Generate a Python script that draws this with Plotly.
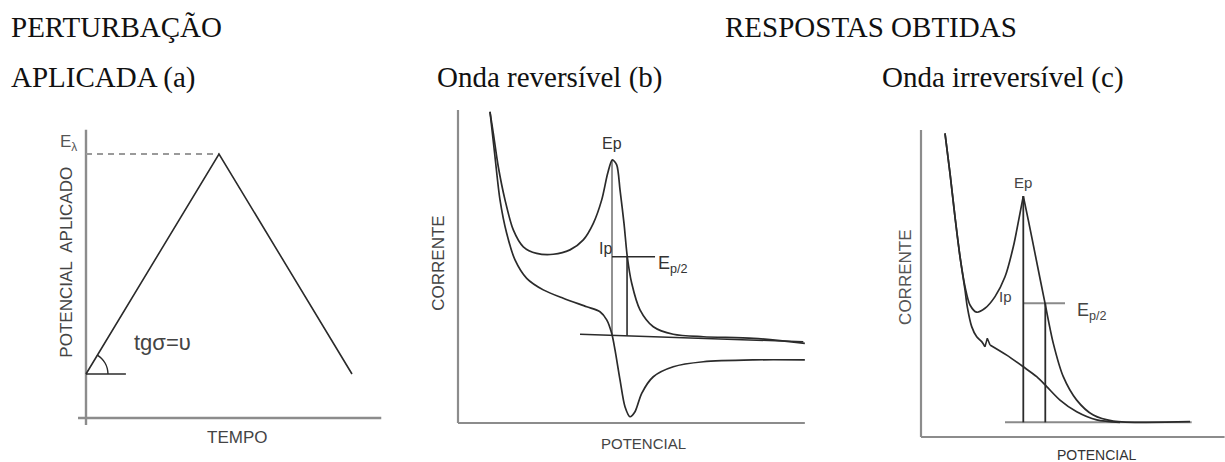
import plotly.graph_objects as go

W, H = 1225, 462

# ---------------- Panel (a): applied triangular potential ----------------
a_tempo = [0, 5, 10]              # time (arb. units)
a_potencial = [1, 6, 1]           # applied potential (arb. units)
a_lambda_t = [0, 5]               # switching potential guide
a_lambda_E = [6, 6]
a_ref_t = [0, 1.5]                # horizontal reference for slope angle
a_ref_E = [1, 1]
a_arc_t = [0.827, 0.799, 0.716, 0.585, 0.414]
a_arc_E = [1.0, 1.129, 1.25, 1.354, 1.433]
a_xaxis_t = [-0.3, 11.1]
a_xaxis_E = [0, 0]
a_yaxis_t = [0, 0]
a_yaxis_E = [-0.16, 6.55]

# ---------------- Panel (b): reversible wave ----------------
b_fwd_x = [9.14, 10.09, 11.51, 13.43, 15.8, 18.66, 22.49, 27.23, 32.0, 35.8, 38.66,
           41.06, 42.77, 44.09, 45.34, 46.29, 47.43, 48.37, 49.63, 52.0, 55.8, 61.5,
           70.1, 84.4, 99.1]
b_fwd_y = [99.6, 92.7, 82.0, 71.4, 61.8, 56.4, 54.3, 54.0, 55.4, 58.6, 63.9,
           71.4, 79.9, 84.2, 82.6, 74.6, 63.9, 53.2, 44.7, 36.2, 30.8, 28.4,
           27.6, 27.1, 25.5]
b_rev_x = [9.14, 10.57, 12.0, 13.91, 16.29, 19.63, 24.37, 30.09, 36.77, 40.57, 42.49,
           43.91, 44.86, 46.29, 47.71, 49.14, 50.57, 52.49, 55.8, 61.5, 70.1, 84.4, 99.1]
b_rev_y = [99.6, 85.2, 71.4, 60.7, 52.2, 46.3, 42.6, 39.9, 37.2, 35.6, 33.0,
           28.7, 23.4, 13.8, 5.2, 2.0, 3.6, 9.5, 14.8, 18.0, 19.6, 20.2, 20.2]
b_base_x = [34.86, 98.66]
b_base_y = [28.4, 26.0]
b_ip_x = [44.0, 44.0]
b_ip_y = [84.2, 28.2]
b_half_x = [44.0, 56.3]
b_half_y = [53.2, 53.2]
b_halfv_x = [48.3, 48.3]
b_halfv_y = [53.2, 27.9]
b_xaxis = ([0, 99.1], [0, 0])
b_yaxis = ([0, 0], [0, 100.2])

# ---------------- Panel (c): irreversible wave ----------------
c_up_rise_x = [8.0, 9.67, 11.33, 13.0, 14.67, 16.33, 18.57, 21.33, 24.67, 28.0, 30.77, 32.77, 34.1]
c_up_rise_y = [101.2, 87.9, 73.4, 60.1, 50.1, 44.0, 41.6, 42.9, 46.8, 53.4, 63.4, 73.4, 80.3]
c_up_fall_x = [34.1, 35.77, 38.0, 41.33, 44.1, 47.43, 51.9, 57.43, 64.1, 89.67]
c_up_fall_y = [80.3, 72.3, 61.2, 44.6, 31.2, 20.1, 12.3, 7.3, 5.3, 5.1]
c_low_a_x = [8.0, 9.67, 11.33, 13.0, 14.67, 15.43, 16.9, 18.57, 20.23, 21.33]
c_low_a_y = [101.2, 87.9, 73.4, 60.1, 49.0, 43.4, 36.8, 33.4, 31.8, 30.1]
c_notch_x = [21.33, 22.1, 23.0]
c_notch_y = [30.1, 32.9, 30.7]
c_low_b_x = [23.0, 28.57, 34.1, 38.57, 41.9, 46.33, 51.9, 58.57, 66.33]
c_low_b_y = [30.7, 27.3, 23.4, 20.1, 16.8, 12.3, 8.4, 5.7, 4.9]
c_base_x = [28.0, 90.23]
c_base_y = [4.9, 4.9]
c_ip_x = [34.1, 34.1]
c_ip_y = [80.3, 4.9]
c_halfv_x = [41.43, 41.43]
c_halfv_y = [44.6, 4.9]
c_half_x = [34.1, 48.0]
c_half_y = [44.6, 44.6]
c_xaxis = ([0, 101.2], [0, 0])
c_yaxis = ([0, 0], [0, 102.3])

# ---------------- Layout geometry helpers ----------------
def xdom(origin_px, ppu, rng):
    return [(origin_px + rng[0] * ppu) / W, (origin_px + rng[1] * ppu) / W]

def ydom(origin_px, ppu, rng):
    return [(H - (origin_px - rng[0] * ppu)) / H, (H - (origin_px - rng[1] * ppu)) / H]

A_XR, A_YR = [-1.2, 11.5], [-0.9, 6.9]
B_XR, B_YR = [-9, 101], [-9, 101]
C_XR, C_YR = [-9, 101.3], [-8, 103]

CURVE = "#2b2b2b"
AXIS = "#8c8c8c"
GRAY = "#8a8a8a"

fig = go.Figure()

def line(x, y, ax, color=CURVE, width=1.6, dash="solid", shape="linear", smoothing=1.0):
    fig.add_trace(go.Scatter(
        x=x, y=y, mode="lines", xaxis="x" + ax, yaxis="y" + ax,
        line=dict(color=color, width=width, dash=dash, shape=shape,
                  smoothing=smoothing if shape == "spline" else None),
        hoverinfo="skip", showlegend=False))

# panel a
line(a_xaxis_t, a_xaxis_E, "", color=AXIS, width=2.4)
line(a_yaxis_t, a_yaxis_E, "", color=AXIS, width=2.4)
line(a_lambda_t, a_lambda_E, "", color="#9a9a9a", width=2, dash="6px,5px")
line(a_tempo, a_potencial, "", width=1.6)
line(a_ref_t, a_ref_E, "", width=1.6)
line(a_arc_t, a_arc_E, "", width=1.4, shape="spline")

# panel b
line(b_xaxis[0], b_xaxis[1], "2", color=AXIS, width=2.2)
line(b_yaxis[0], b_yaxis[1], "2", color=AXIS, width=2.2)
line(b_base_x, b_base_y, "2", width=1.5)
line(b_ip_x, b_ip_y, "2", color="#777777", width=1.6)
line(b_half_x, b_half_y, "2", width=1.5)
line(b_halfv_x, b_halfv_y, "2", width=1.6)
line(b_fwd_x, b_fwd_y, "2", width=1.7, shape="spline", smoothing=0.8)
line(b_rev_x, b_rev_y, "2", width=1.7, shape="spline", smoothing=0.8)

# panel c
line(c_xaxis[0], c_xaxis[1], "3", color=AXIS, width=2.2)
line(c_yaxis[0], c_yaxis[1], "3", color=AXIS, width=2.2)
line(c_base_x, c_base_y, "3", color=GRAY, width=2)
line(c_half_x, c_half_y, "3", color=GRAY, width=2)
line(c_ip_x, c_ip_y, "3", width=1.8)
line(c_halfv_x, c_halfv_y, "3", width=1.8)
line(c_up_rise_x, c_up_rise_y, "3", width=1.7, shape="spline", smoothing=0.8)
line(c_up_fall_x, c_up_fall_y, "3", width=1.7, shape="spline", smoothing=0.8)
line(c_low_a_x, c_low_a_y, "3", width=1.7, shape="spline", smoothing=0.8)
line(c_notch_x, c_notch_y, "3", width=1.5)
line(c_low_b_x, c_low_b_y, "3", width=1.7, shape="spline", smoothing=0.8)

SANS = "Liberation Sans, Arial, sans-serif"
SERIF = "Liberation Serif, Times New Roman, serif"
annotations = []

def label(text, x, y, ax, size=16, angle=0, xanchor="center", color="#333333"):
    annotations.append(dict(text=text, x=x, y=y, xref="x" + ax, yref="y" + ax,
                            showarrow=False, textangle=angle, xanchor=xanchor,
                            yanchor="middle",
                            font=dict(family=SANS, size=size, color=color)))

# panel a labels
label("tgσ=υ", 2.86, 1.72, "", size=22, color="#444444")
label("E<sub>λ</sub>", -0.66, 6.25, "", size=17, color="#555555")
label("POTENCIAL\u00a0 APLICADO", -0.72, 3.55, "", size=17, angle=-90, color="#444444")
label("TEMPO", 5.68, -0.45, "", size=17, color="#444444")

# panel b labels
label("Ep", 43.9, 89.5, "2", size=16)
label("Ip", 42.0, 56.0, "2", size=16)
label("E<sub>p/2</sub>", 56.6, 50.6, "2", size=18, xanchor="left")
label("CORRENTE", -5.8, 51.2, "2", size=17, angle=-90, color="#444444")
label("POTENCIAL", 52.9, -6.4, "2", size=15, color="#444444")

# panel c labels
label("Ep", 34.0, 84.9, "3", size=15, color="#444444")
label("Ip", 28.0, 46.8, "3", size=15, color="#444444")
label("E<sub>p/2</sub>", 51.3, 42.0, "3", size=18, xanchor="left", color="#444444")
label("CORRENTE", -5.4, 53.3, "3", size=17, angle=-90, color="#555555")
label("POTENCIAL", 58.7, -6.0, "3", size=14, color="#333333")

# titles (page headings)
titles = [
    ("PERTURBAÇÃO", 9, 27),
    ("APLICADA (a)", 9, 78),
    ("RESPOSTAS OBTIDAS", 723, 27),
    ("Onda reversível (b)", 435, 78),
    ("Onda irreversível (c)", 880, 78),
]
for txt, px, py in titles:
    annotations.append(dict(text=txt, x=px / W, y=1 - py / H, xref="paper", yref="paper",
                            showarrow=False, xanchor="left", yanchor="middle",
                            font=dict(family=SERIF, size=29, color="#111111")))

ax_common = dict(visible=False, fixedrange=True)
fig.update_layout(
    width=W, height=H, margin=dict(l=0, r=0, t=0, b=0),
    paper_bgcolor="white", plot_bgcolor="white", showlegend=False,
    xaxis=dict(range=A_XR, domain=xdom(86, 26.6, A_XR), **ax_common),
    yaxis=dict(range=A_YR, domain=ydom(418, 44, A_YR), **ax_common),
    xaxis2=dict(range=B_XR, domain=xdom(458, 3.5, B_XR), anchor="y2", **ax_common),
    yaxis2=dict(range=B_YR, domain=ydom(423, 3.125, B_YR), anchor="x2", **ax_common),
    xaxis3=dict(range=C_XR, domain=xdom(921, 3.0, C_XR), anchor="y3", **ax_common),
    yaxis3=dict(range=C_YR, domain=ydom(437, 3.0, C_YR), anchor="x3", **ax_common),
    annotations=annotations,
)

fig.write_html("out.html", config={"displayModeBar": False},
               post_script="document.body.style.margin='0';document.body.style.overflow='hidden';")
